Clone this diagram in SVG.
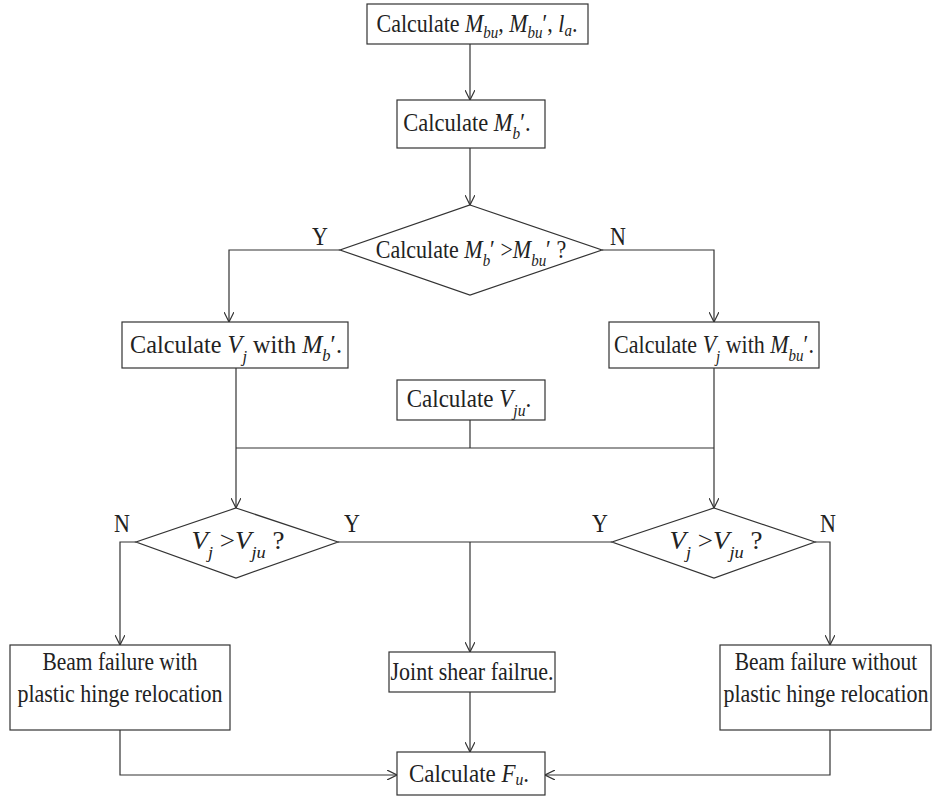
<svg xmlns="http://www.w3.org/2000/svg" width="935" height="798" viewBox="0 0 935 798" font-family="Liberation Serif, Times New Roman, serif">
<style>
.b{fill:#fff;stroke:#333;stroke-width:1.2}
.c{fill:none;stroke:#333;stroke-width:1.2}
text{font-family:"Liberation Serif","Times New Roman",serif;font-size:25px;fill:#222;text-anchor:middle}
.i{font-style:italic}
.s{font-style:italic;font-size:17px}
</style>
<defs>
<marker id="a" viewBox="0 0 10 10" refX="10" refY="5" markerWidth="10" markerHeight="10" markerUnits="userSpaceOnUse" orient="auto">
<path d="M0,0 L10,5 L0,10" fill="none" stroke="#333" stroke-width="1.2"/>
</marker>
</defs>
<rect width="935" height="798" fill="#fff"/>
<g id="connectors">
<path class="c" d="M470,44 V100" marker-end="url(#a)"/>
<path class="c" d="M470,148 V205" marker-end="url(#a)"/>
<path class="c" d="M340,250 H229 V322" marker-end="url(#a)"/>
<path class="c" d="M602,250 H714 V322" marker-end="url(#a)"/>
<path class="c" d="M236,368 V508" marker-end="url(#a)"/>
<path class="c" d="M714,368 V508" marker-end="url(#a)"/>
<path class="c" d="M470,420 V448 M236,448 H714"/>
<path class="c" d="M136,542 H120 V645" marker-end="url(#a)"/>
<path class="c" d="M338,542 H612"/>
<path class="c" d="M470,542 V652" marker-end="url(#a)"/>
<path class="c" d="M815,542 H830 V645" marker-end="url(#a)"/>
<path class="c" d="M120,730 V775 H397" marker-end="url(#a)"/>
<path class="c" d="M830,730 V775 H545" marker-end="url(#a)"/>
<path class="c" d="M470,692 V752" marker-end="url(#a)"/>
</g>
<g id="n1"><rect class="b" x="367" y="4" width="221" height="40"/>
<text transform="translate(477,32) scale(0.88,1)">Calculate <tspan class="i">M</tspan><tspan class="s" dy="6">bu</tspan><tspan dy="-6">, </tspan><tspan class="i">M</tspan><tspan class="s" dy="6">bu</tspan><tspan dy="-6">′, </tspan><tspan class="i">l</tspan><tspan class="s" dy="4">a</tspan><tspan dy="-4">.</tspan></text></g>
<g id="n2"><rect class="b" x="397" y="100" width="148" height="48"/>
<text transform="translate(467,131) scale(0.9,1)">Calculate <tspan class="i">M</tspan><tspan class="s" dy="8">b</tspan><tspan dy="-8">′.</tspan></text></g>
<g id="d1"><polygon class="b" points="470,205 602,250 470,295 340,250"/>
<text transform="translate(471,258) scale(0.88,1)">Calculate <tspan class="i">M</tspan><tspan class="s" dy="8">b</tspan><tspan dy="-8">′ &gt;</tspan><tspan class="i">M</tspan><tspan class="s" dy="8">bu</tspan><tspan dy="-8">′ ?</tspan></text>
<text transform="translate(320,245) scale(0.88,1)">Y</text>
<text transform="translate(618,245) scale(0.88,1)">N</text></g>
<g id="n3"><rect class="b" x="122" y="322" width="226" height="46"/>
<text transform="translate(236,353) scale(0.97,1)">Calculate <tspan class="i">V</tspan><tspan class="s" dy="9">j</tspan><tspan dy="-9"> with  </tspan><tspan class="i">M</tspan><tspan class="s" dy="8">b</tspan><tspan dy="-8">′.</tspan></text></g>
<g id="n4"><rect class="b" x="609" y="322" width="210" height="46"/>
<text transform="translate(714,353) scale(0.88,1)">Calculate <tspan class="i">V</tspan><tspan class="s" dy="9">j</tspan><tspan dy="-9"> with  </tspan><tspan class="i">M</tspan><tspan class="s" dy="8">bu</tspan><tspan dy="-8">′.</tspan></text></g>
<g id="n5"><rect class="b" x="397" y="380" width="148" height="40"/>
<text transform="translate(469,407) scale(0.92,1)">Calculate <tspan class="i">V</tspan><tspan class="s" dy="9">ju</tspan><tspan dy="-9">.</tspan></text></g>
<g id="d2"><polygon class="b" points="236,508 338,542 236,578 136,542"/>
<text transform="translate(238,549) scale(1.08,1)"><tspan class="i">V</tspan><tspan class="s" dy="9">j</tspan><tspan dy="-9"> &gt;</tspan><tspan class="i">V</tspan><tspan class="s" dy="9">ju</tspan><tspan dy="-9"> ?</tspan></text>
<text transform="translate(122,532) scale(0.88,1)">N</text>
<text transform="translate(352,532) scale(0.88,1)">Y</text></g>
<g id="d3"><polygon class="b" points="714,508 815,542 714,578 612,542"/>
<text transform="translate(716,549) scale(1.08,1)"><tspan class="i">V</tspan><tspan class="s" dy="9">j</tspan><tspan dy="-9"> &gt;</tspan><tspan class="i">V</tspan><tspan class="s" dy="9">ju</tspan><tspan dy="-9"> ?</tspan></text>
<text transform="translate(600,532) scale(0.88,1)">Y</text>
<text transform="translate(828,532) scale(0.88,1)">N</text></g>
<g id="n6"><rect class="b" x="10" y="645" width="220" height="85"/>
<text transform="translate(120,670) scale(0.86,1)">Beam failure with</text>
<text transform="translate(120,702) scale(0.88,1)">plastic hinge relocation</text></g>
<g id="n7"><rect class="b" x="389" y="652" width="166" height="40"/>
<text transform="translate(472,680) scale(0.88,1)">Joint shear failrue.</text></g>
<g id="n8"><rect class="b" x="720" y="645" width="211" height="85"/>
<text transform="translate(826,670) scale(0.86,1)">Beam failure without</text>
<text transform="translate(826,702) scale(0.88,1)">plastic hinge relocation</text></g>
<g id="n9"><rect class="b" x="397" y="752" width="148" height="43"/>
<text transform="translate(469,782) scale(0.92,1)">Calculate <tspan class="i">F</tspan><tspan class="s" dy="3">u</tspan><tspan dy="-3">.</tspan></text></g>
</svg>
